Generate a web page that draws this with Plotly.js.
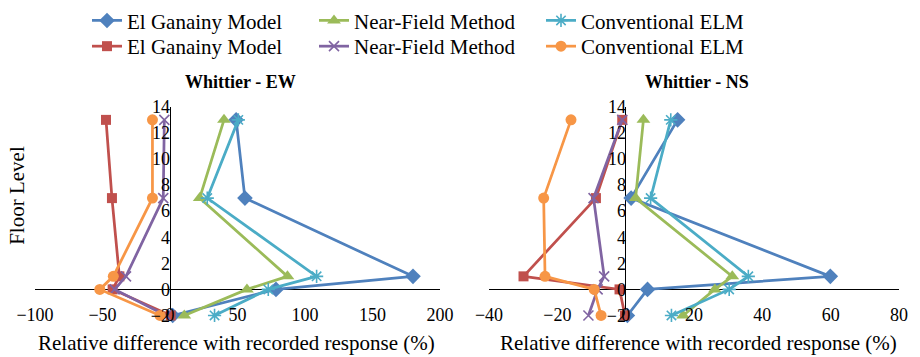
<!DOCTYPE html>
<html>
<head>
<meta charset="utf-8">
<script src="https://cdn.plot.ly/plotly-3.0.1.min.js"></script>
</head>
<body style="margin:0">
<div id="chart"></div>
<script>
// Floor levels where responses were evaluated
const floors = [13, 7, 1, 0, -2];

// Series names
const seriesNames = ["El Ganainy Model", "Near-Field Method", "Conventional ELM",
                     "El Ganainy Model", "Near-Field Method", "Conventional ELM"];

// Whittier - EW (relative difference, %)
const ewElGanainyA   = [49, 55.5, 180, 78.5, 2];
const ewNearFieldA   = [40, 22, 87, 57, 10.6];
const ewConvELMA     = [50.6, 27.6, 108.6, 72.8, 33];
const ewElGanainyB   = [-47.4, -43, -37.5, -42.5, 0.5];
const ewNearFieldB   = [-4.2, -5, -32.6, -41, -3];
const ewConvELMB     = [-13, -13, -42, -52, -7.4];

// Whittier - NS (relative difference, %)
const nsElGanainyA   = [15.2, 1.6, 59.9, 6.4, 0.5];
const nsNearFieldA   = [5.2, 2.9, 31.2, 26.1, 16.8];
const nsConvELMA     = [13.2, 7.3, 35.9, 30.3, 13.4];
const nsElGanainyB   = [-1, -8.7, -29.9, -1.8, -0.2];
const nsNearFieldB   = [-1, -9.4, -6.3, -8.2, -10.9];
const nsConvELMB     = [-16, -24, -23.6, -9.2, -7.2];

// Tick labels
const ewTicks = [-100, -50, 0, 50, 100, 150, 200];
const nsTicks = [-40, -20, 0, 20, 40, 60, 80];
const yTicks = [-2, 0, 2, 4, 6, 8, 10, 12, 14];

const colors = ["#4F81BD", "#9BBB59", "#4BACC6", "#C0504D", "#8064A2", "#F79646"];
const symbols = ["diamond", "triangle-up", "asterisk-open", "square", "x-thin-open", "circle"];
const sizes = [12, 12, 11, 10, 10, 11];

const ewData = [ewElGanainyA, ewNearFieldA, ewConvELMA, ewElGanainyB, ewNearFieldB, ewConvELMB];
const nsData = [nsElGanainyA, nsNearFieldA, nsConvELMA, nsElGanainyB, nsNearFieldB, nsConvELMB];

(function () {
  const FF = "Liberation Serif";
  const W = 920, H = 357;
  const px = v => v / W, py = v => (H - v) / H;

  const traces = [];
  function addSet(data, xa, ya, show) {
    data.forEach((vals, i) => {
      traces.push({
        type: "scatter", mode: "lines+markers",
        x: vals, y: floors, xaxis: xa, yaxis: ya,
        name: seriesNames[i], showlegend: show, cliponaxis: false,
        legend: i < 3 ? "legend" : "legend2",
        line: {color: colors[i], width: 2.75},
        marker: {symbol: symbols[i], size: sizes[i], color: colors[i],
                 line: {color: colors[i], width: (symbols[i].indexOf("open") >= 0 ? 1.6 : 0)}}
      });
    });
  }
  addSet(ewData, "x", "y", true);
  addSet(nsData, "x2", "y2", false);

  const axisCommon = {
    showgrid: false, showline: false, ticks: "",
    zeroline: true, zerolinecolor: "#000", zerolinewidth: 1,
    tickfont: {family: FF, size: 18, color: "#000"}, fixedrange: true
  };

  function ann(text, x, y, size, extra) {
    return Object.assign({text: text, xref: "paper", yref: "paper", x: px(x), y: py(y),
      xanchor: "center", yanchor: "middle", showarrow: false,
      font: {family: FF, size: size, color: "#000"}}, extra || {});
  }

  function legendAt(centerPx) {
    return {
      orientation: "h", x: px(87), y: py(centerPx), xanchor: "left", yanchor: "middle",
      entrywidth: 182, entrywidthmode: "pixels", traceorder: "normal",
      font: {family: FF, size: 21, color: "#000"}, bgcolor: "rgba(0,0,0,0)",
      itemwidth: 30, tracegroupgap: 0
    };
  }

  const layout = {
    width: W, height: H,
    margin: {l: 0, r: 0, t: 0, b: 0},
    paper_bgcolor: "#fff", plot_bgcolor: "rgba(0,0,0,0)",
    font: {family: FF, size: 18, color: "#000"},
    showlegend: true,
    legend: legendAt(17),
    legend2: legendAt(43),
    xaxis: Object.assign({}, axisCommon, {
      domain: [px(35), px(440)], range: [-100, 200], tickvals: ewTicks,
      anchor: "free", position: py(301)
    }),
    yaxis: Object.assign({}, axisCommon, {
      domain: [py(315), py(104)], range: [-2, 14], tickvals: yTicks,
      anchor: "free", position: px(170)
    }),
    xaxis2: Object.assign({}, axisCommon, {
      domain: [px(489), px(899)], range: [-40, 80], tickvals: nsTicks,
      anchor: "free", position: py(301)
    }),
    yaxis2: Object.assign({}, axisCommon, {
      domain: [py(315), py(104)], range: [-2, 14], tickvals: yTicks,
      anchor: "free", position: px(626)
    }),
    annotations: [
      ann("<b>Whittier - EW</b>", 240, 79, 18),
      ann("<b>Whittier - NS</b>", 697, 79, 18),
      ann("Floor Level", 17, 194, 21, {textangle: -90}),
      ann("Relative difference with recorded response (%)", 236, 343, 21),
      ann("Relative difference with recorded response (%)", 698, 343, 21)
    ]
  };

  Plotly.newPlot("chart", traces, layout, {displayModeBar: false});
})();
</script>
</body>
</html>
